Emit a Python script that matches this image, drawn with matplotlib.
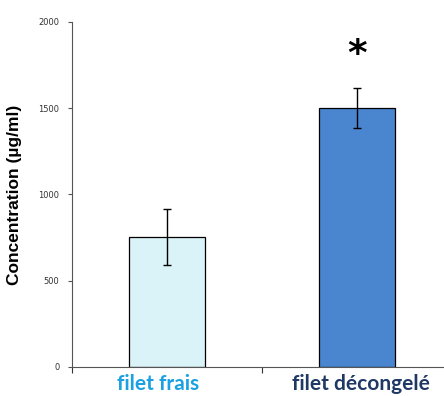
import matplotlib
matplotlib.use("Agg")
import matplotlib.pyplot as plt

categories = ["filet frais", "filet décongelé"]
values = [755, 1502]
errors = [163, 115]
bar_colors = ["#daf3f8", "#4a86d0"]
label_colors = ["#1ba1e2", "#1f3864"]

fig = plt.figure(figsize=(4.44, 3.96), dpi=100)
ax = fig.add_axes([72 / 444, 1 - 367 / 396, 372 / 444, 345 / 396])

x = range(len(categories))
ax.bar(x, values, width=0.405, color=bar_colors, edgecolor="black", linewidth=0.9)
ax.errorbar(x, values, yerr=errors, fmt="none", ecolor="black", elinewidth=1.0,
            capsize=3, capthick=1.0)

ax.text(1, 1810, "*", ha="center", va="center", fontsize=27, fontweight="bold")

ax.set_xlim(-0.5, 1.5 - 8 / 190)
ax.set_ylim(0, 2000)
ax.set_yticks([0, 500, 1000, 1500, 2000])
ax.set_xticks([-0.5, 0.5])
ax.set_xticklabels([])
ax.tick_params(axis="y", labelsize=6, length=3, width=0.8, colors="#555555", labelcolor="#333333", pad=6)
ax.tick_params(axis="x", length=4, width=0.8, colors="#333333")

# label offsets (in category units) to match the source layout
offsets = [-0.047, 0.02]
for i, (name, col) in enumerate(zip(categories, label_colors)):
    ax.text(i + offsets[i], -40, name, ha="center", va="top", fontsize=15, fontweight="bold",
            color=col, family="Lato")

ax.set_ylabel("Concentration (µg/ml)", fontsize=12.5, fontweight="bold",
              family="Liberation Sans", labelpad=12)

ax.spines["top"].set_visible(False)
ax.spines["right"].set_visible(False)
ax.spines["left"].set_color("#555555")
ax.spines["bottom"].set_color("#555555")

fig.savefig("out.png", dpi=100)
